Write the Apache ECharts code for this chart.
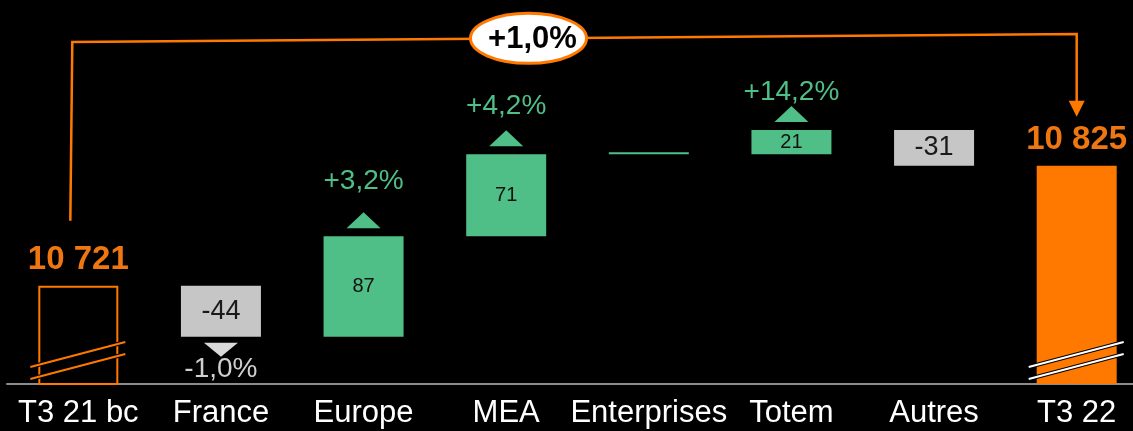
<!DOCTYPE html>
<html>
<head>
<meta charset="utf-8">
<script src="https://cdn.jsdelivr.net/npm/echarts@6/dist/echarts.min.js"></script>
<style>
  html, body { margin: 0; padding: 0; background: #000; }
  #chart { width: 1133px; height: 431px; }
</style>
</head>
<body>
<div id="chart"></div>
<script>
const categories = ['T3 21 bc', 'France', 'Europe', 'MEA', 'Enterprises', 'Totem', 'Autres', 'T3 22']
const startValue = 10721
const deltas = [-44, 87, 71, 0, 21, -31]
const endValue = 10825
const pctLabels = ['', '-1,0%', '+3,2%', '+4,2%', '', '+14,2%', '', '']
const totalGrowth = '+1,0%'

// layout only: px from bar edge to centre of the % label
const pctLabelGap = [0, 33, 55, 48, 0, 38, 0, 0]

const yMin = 10636
const yMax = 10940
const ORANGE = '#FF7900'
const GREEN = '#50BE87'
const GREY = '#c6c6c6'
const FONT = '"Liberation Sans", Arial, sans-serif'

// waterfall stacks
const base = ['-']
const up = ['-']
const down = ['-']
const running = [startValue]
let run = startValue
deltas.forEach(d => {
  const prev = run
  run += d
  base.push(Math.min(prev, run))
  up.push(d >= 0 ? d : '-')
  down.push(d < 0 ? -d : '-')
  running.push(run)
})
base.push('-')
up.push('-')
down.push('-')
running.push(endValue)

const totals = categories.map((c, i) => {
  if (i === 0) {
    return { value: startValue, itemStyle: { color: 'rgba(0,0,0,0)', borderColor: ORANGE, borderWidth: 2 } }
  }
  if (i === categories.length - 1) {
    return { value: endValue, itemStyle: { color: ORANGE } }
  }
  return '-'
})

const fmt = v => String(v).replace(/\B(?=(\d{3})+(?!\d))/g, ' ')

const pctData = []
pctLabels.forEach((t, i) => {
  if (t) pctData.push([i, running[i]])
})

const chart = echarts.init(document.getElementById('chart'))

chart.setOption({
  backgroundColor: '#000',
  animation: false,
  grid: { left: 7, right: -15, top: 33, bottom: 47, containLabel: false, outerBoundsMode: 'none' },
  xAxis: {
    type: 'category',
    data: categories,
    axisTick: { show: false },
    axisLine: { lineStyle: { color: '#8c8c8c', width: 2 } },
    axisLabel: { color: '#fff', fontSize: 31, fontFamily: FONT, margin: 14, interval: 0 }
  },
  yAxis: {
    type: 'value',
    min: yMin,
    max: yMax,
    show: false,
    splitLine: { show: false }
  },
  series: [
    {
      name: 'base',
      type: 'bar',
      stack: 'wf',
      barWidth: 80,
      silent: true,
      itemStyle: { color: 'rgba(0,0,0,0)' },
      data: base
    },
    {
      name: 'up',
      type: 'bar',
      stack: 'wf',
      barWidth: 80,
      barMinHeight: 2,
      itemStyle: { color: GREEN },
      label: {
        show: true,
        position: 'inside',
        color: '#111',
        fontSize: 20,
        fontFamily: FONT,
        formatter: p => (p.value ? p.value : '')
      },
      data: up
    },
    {
      name: 'down',
      type: 'bar',
      stack: 'wf',
      barWidth: 80,
      itemStyle: { color: GREY },
      label: {
        show: true,
        position: 'inside',
        color: '#1a1a1a',
        fontSize: 27,
        fontFamily: FONT,
        formatter: p => '-' + p.value
      },
      data: down
    },
    {
      name: 'total',
      type: 'bar',
      stack: 'wf',
      barWidth: 80,
      label: {
        show: true,
        position: 'top',
        distance: 9,
        color: '#ee7711',
        fontSize: 33,
        fontWeight: 'bold',
        fontFamily: FONT,
        formatter: p => fmt(p.value)
      },
      data: totals
    },
    {
      // triangles + growth labels
      name: 'pct',
      type: 'custom',
      silent: true,
      z: 5,
      renderItem: (params, api) => {
        const i = api.value(0)
        const p = api.coord([i, api.value(1)])
        const isUp = i > 0 && deltas[i - 1] >= 0
        const x = p[0]
        const y = p[1]
        const gap = pctLabelGap[i]
        let tri, ty
        if (isUp) {
          tri = [[x - 17, y - 8], [x + 17, y - 8], [x, y - 24]]
          ty = y - gap
        } else {
          tri = [[x - 17, y + 6], [x + 17, y + 6], [x, y + 20]]
          ty = y + gap
        }
        return {
          type: 'group',
          children: [
            { type: 'polygon', shape: { points: tri }, style: { fill: isUp ? GREEN : '#d9d9d9' } },
            {
              type: 'text',
              style: {
                text: pctLabels[i], x: x, y: ty,
                fill: isUp ? GREEN : '#cfcfcf',
                fontSize: 28, fontFamily: FONT,
                align: 'center', verticalAlign: 'middle'
              }
            }
          ]
        }
      },
      data: pctData
    },
    {
      // axis break marks on total bars
      name: 'breaks',
      type: 'custom',
      silent: true,
      z: 5,
      renderItem: (params, api) => {
        const i = api.value(0)
        const p = api.coord([i, yMin])
        const x = p[0]
        const y = p[1] - 1
        const col = i === 0 ? ORANGE : '#fff'
        const l1 = { x1: x - 48, y1: y - 16, x2: x + 47, y2: y - 41 }
        const l2 = { x1: x - 48, y1: y - 4, x2: x + 47, y2: y - 29 }
        return {
          type: 'group',
          children: [
            { type: 'line', shape: l1, style: { stroke: '#000', lineWidth: 4 } },
            { type: 'line', shape: l2, style: { stroke: '#000', lineWidth: 4 } },
            { type: 'line', shape: l1, style: { stroke: col, lineWidth: 2 } },
            { type: 'line', shape: l2, style: { stroke: col, lineWidth: 2 } }
          ]
        }
      },
      data: [[0, yMin], [categories.length - 1, yMin]]
    },
    {
      // overall growth bracket
      name: 'bracket',
      type: 'custom',
      silent: true,
      z: 5,
      renderItem: (params, api) => {
        const last = categories.length - 1
        const a = api.coord([0, startValue])
        const b = api.coord([last, endValue])
        const top = api.coord([0, yMax])[1]
        const lx = a[0] - 6
        const ly = top + 9
        const rx = b[0]
        const ry = top + 1
        const lb = a[1] - 65
        const rb = b[1] - 49
        const cx = (lx + rx) / 2 - 46
        const cy = ly + (ry - ly) * (cx - lx) / (rx - lx)
        return {
          type: 'group',
          children: [
            { type: 'polyline', shape: { points: [[lx - 2, lb], [lx, ly], [rx, ry], [rx, rb - 14]] },
              style: { stroke: ORANGE, lineWidth: 2.5, fill: null } },
            { type: 'polygon', shape: { points: [[rx - 8, rb - 16], [rx + 8, rb - 16], [rx, rb]] },
              style: { fill: ORANGE } },
            { type: 'ellipse', shape: { cx: cx, cy: cy, rx: 58, ry: 25 },
              style: { fill: '#fff', stroke: ORANGE, lineWidth: 3 } },
            { type: 'text', style: {
                text: totalGrowth, x: cx + 4, y: cy + 1, fill: '#000',
                fontSize: 31, fontWeight: 'bold', fontFamily: FONT,
                align: 'center', verticalAlign: 'middle' } }
          ]
        }
      },
      data: [[0, startValue]]
    }
  ]
})
</script>
</body>
</html>
